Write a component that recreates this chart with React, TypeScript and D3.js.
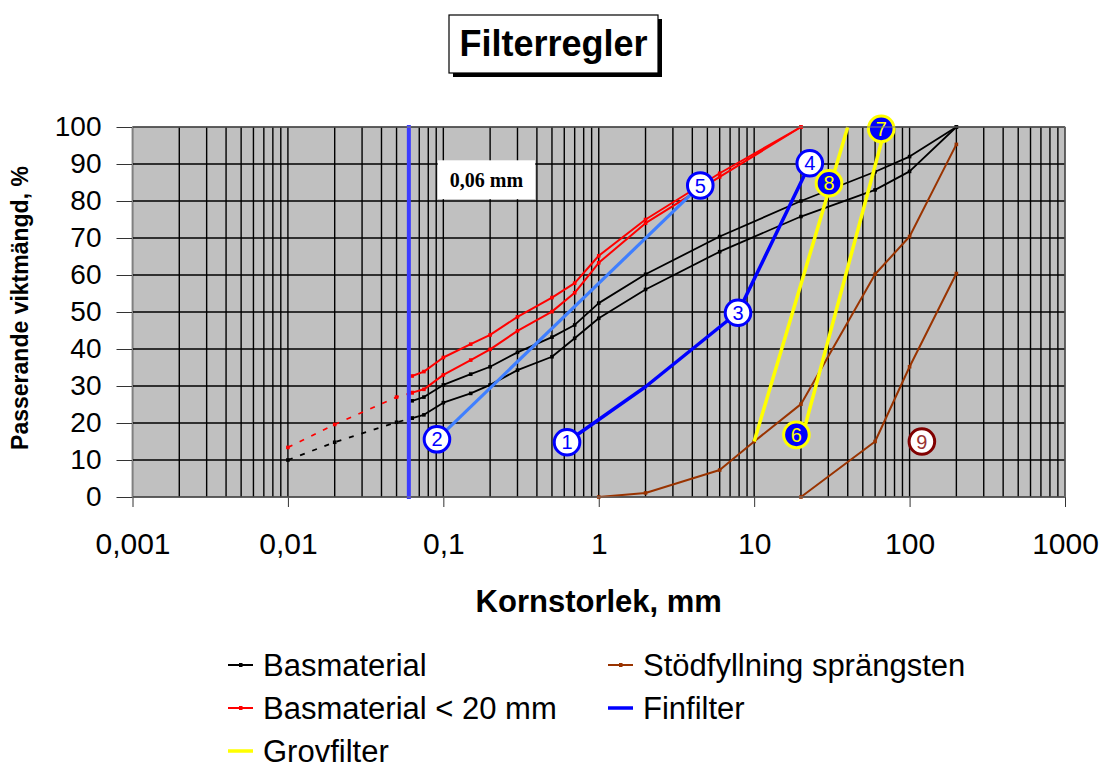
import * as d3 from 'd3';
import React, { useEffect, useRef } from 'react';

// axes
const xTicks = [0.001, 0.01, 0.1, 1, 10, 100, 1000];
const xTickLabels = ['0,001', '0,01', '0,1', '1', '10', '100', '1000'];
const yTicks = [0, 10, 20, 30, 40, 50, 60, 70, 80, 90, 100];

// Basmaterial (upper and lower bound)
const basX = [0.063, 0.075, 0.1, 0.15, 0.2, 0.3, 0.5, 0.7, 1, 2, 6, 20, 60, 100, 200];
const basUpperY = [26, 27, 30.3, 33.2, 35.2, 39.1, 43.2, 46.5, 52.4, 60.2, 70.4, 80, 87.9, 92, 100];
const basLowerY = [21.3, 22.2, 25.5, 28, 30.3, 34.3, 37.9, 42.9, 48.3, 56.1, 66.3, 75.8, 83, 88, 100];
const basDashX = [0.01, 0.02, 0.05, 0.063];
const basDashY = [10, 14.8, 20.2, 21.3];

// Basmaterial < 20 mm
const redX = [0.063, 0.075, 0.1, 0.15, 0.2, 0.3, 0.5, 0.7, 1, 2, 6, 20];
const redUpperY = [32.7, 33.9, 37.7, 41.3, 43.8, 48.7, 53.9, 57.8, 65.2, 75, 87.5, 100];
const redLowerY = [28.2, 29.1, 33, 37, 39.9, 44.9, 50.1, 55.2, 63.3, 74, 86.5, 100];
const redDashX = [0.01, 0.02, 0.05, 0.063];
const redDashY = [13.4, 19.6, 27, 28.2];

// Stödfyllning sprängsten
const stodX1 = [1, 2, 6, 10, 20, 60, 100, 200];
const stodY1 = [0, 1.1, 7.3, 15, 25.1, 60.2, 70.4, 95.3];
const stodX2 = [20, 60, 100, 200];
const stodY2 = [0, 15, 35.2, 60.4];

// Grovfilter
const grovX1 = [10, 40];
const grovY1 = [15, 100];
const grovX2 = [20, 70];
const grovY2 = [15, 100];

// Finfilter
const finX = [0.63, 2, 7.9, 22.8];
const finY = [15, 29.8, 50, 90];
const fin2X = [0.091, 4.5];
const fin2Y = [15.6, 84.2];
const limitX = 0.06;

// numbered rules
const ruleLabels = ['1', '2', '3', '4', '5', '6', '7', '8', '9'];
const ruleX = [0.625, 0.091, 7.87, 22.8, 4.5, 18.7, 65.7, 30.3, 120];
const ruleY = [14.8, 15.6, 49.8, 90.2, 84.2, 16.8, 99.5, 84.8, 15];
const ruleKind = ['fin', 'fin', 'fin', 'fin', 'fin', 'grov', 'grov', 'grov', 'stod'];

const legendNames = ['Basmaterial', 'Basmaterial < 20 mm', 'Grovfilter', 'Stödfyllning sprängsten', 'Finfilter'];
const legendColors = ['#000000', '#FF0000', '#FFFF00', '#993300', '#0000FF'];

const FONT = "'Liberation Sans', Arial, sans-serif";

const App: React.FC = () => {
  const svgRef = useRef<SVGSVGElement | null>(null);

  useEffect(() => {
    const width = 1107;
    const height = 771;
    const margin = { top: 127, right: 42, bottom: 274, left: 132.5 };
    const svg = d3.select(svgRef.current);
    svg.selectAll('*').remove();
    svg.attr('width', width).attr('height', height).attr('viewBox', `0 0 ${width} ${height}`);

    const x = d3.scaleLog().domain([0.001, 1000]).range([margin.left, width - margin.right]);
    const y = d3.scaleLinear().domain([0, 100]).range([height - margin.bottom, margin.top]);

    // plot area
    svg
      .append('rect')
      .attr('x', x(0.001))
      .attr('y', y(100))
      .attr('width', x(1000) - x(0.001))
      .attr('height', y(0) - y(100))
      .attr('fill', '#C0C0C0');

    // grid
    const minor: number[] = [];
    for (let e = -3; e <= 2; e++) {
      for (let m = 1; m <= 9; m++) minor.push(m * Math.pow(10, e));
    }
    minor.push(1000);
    svg
      .append('g')
      .selectAll('line')
      .data(minor)
      .join('line')
      .attr('x1', (d) => x(d))
      .attr('x2', (d) => x(d))
      .attr('y1', y(0))
      .attr('y2', y(100))
      .attr('stroke', '#000')
      .attr('stroke-width', 1.4);
    svg
      .append('g')
      .selectAll('line')
      .data(yTicks)
      .join('line')
      .attr('x1', x(0.001))
      .attr('x2', x(1000))
      .attr('y1', (d) => y(d))
      .attr('y2', (d) => y(d))
      .attr('stroke', '#000')
      .attr('stroke-width', 1.4);

    // axes
    const yAxis = svg
      .append('g')
      .attr('transform', `translate(${margin.left},0)`)
      .call(d3.axisLeft(y).tickValues(yTicks).tickSize(16).tickPadding(15));
    yAxis.select('.domain').remove();
    yAxis.selectAll('line').attr('stroke', '#333');
    yAxis
      .selectAll('text')
      .attr('font-family', FONT)
      .attr('font-size', 28)
      .attr('fill', '#000');

    const xAxis = svg
      .append('g')
      .attr('transform', `translate(0,${height - margin.bottom})`)
      .call(
        d3
          .axisBottom(x)
          .tickValues(xTicks)
          .tickSize(10)
          .tickPadding(26)
          .tickFormat((d, i) => xTickLabels[i]),
      );
    xAxis.select('.domain').remove();
    xAxis.selectAll('line').attr('stroke', '#333');
    xAxis
      .selectAll('text')
      .attr('font-family', FONT)
      .attr('font-size', 30)
      .attr('fill', '#000');

    const line = d3
      .line<[number, number]>()
      .x((d) => x(d[0]))
      .y((d) => y(d[1]));

    const zip = (xs: number[], ys: number[]) => xs.map((v, i) => [v, ys[i]] as [number, number]);

    const drawSeries = (
      xs: number[],
      ys: number[],
      color: string,
      w: number,
      dash: string | null,
      markers: boolean,
    ) => {
      const pts = zip(xs, ys);
      const p = svg
        .append('path')
        .datum(pts)
        .attr('fill', 'none')
        .attr('stroke', color)
        .attr('stroke-width', w)
        .attr('stroke-linejoin', 'round')
        .attr('d', line);
      if (dash) p.attr('stroke-dasharray', dash);
      if (markers) {
        svg
          .append('g')
          .selectAll('rect')
          .data(pts)
          .join('rect')
          .attr('x', (d) => x(d[0]) - 1.8)
          .attr('y', (d) => y(d[1]) - 1.8)
          .attr('width', 3.6)
          .attr('height', 3.6)
          .attr('fill', color);
      }
    };

    drawSeries(stodX1, stodY1, '#993300', 2, null, true);
    drawSeries(stodX2, stodY2, '#993300', 2, null, true);
    drawSeries(basDashX, basDashY, '#000', 1.8, '5,8', true);
    drawSeries(redDashX, redDashY, '#FF0000', 1.8, '5,8', true);
    drawSeries(basX, basUpperY, '#000', 1.8, null, true);
    drawSeries(basX, basLowerY, '#000', 1.8, null, true);
    drawSeries(redX, redUpperY, '#FF0000', 2, null, true);
    drawSeries(redX, redLowerY, '#FF0000', 2, null, true);
    drawSeries(grovX1, grovY1, '#FFFF00', 3.5, null, false);
    drawSeries(grovX2, grovY2, '#FFFF00', 3.5, null, false);
    drawSeries(fin2X, fin2Y, '#3F7FFF', 3.2, null, false);
    drawSeries(finX, finY, '#0000FF', 3.5, null, false);

    // 0,06 mm limit
    svg
      .append('line')
      .attr('x1', x(limitX))
      .attr('x2', x(limitX))
      .attr('y1', y(0))
      .attr('y2', y(100))
      .attr('stroke', '#3B3BFF')
      .attr('stroke-width', 4)
      .attr('stroke-linecap', 'square');

    const lb = svg.append('g');
    lb.append('rect')
      .attr('x', x(0.092))
      .attr('y', y(91))
      .attr('width', x(0.39) - x(0.092))
      .attr('height', y(80.5) - y(91))
      .attr('fill', '#fff');
    lb.append('text')
      .attr('x', (x(0.092) + x(0.39)) / 2)
      .attr('y', (y(91) + y(80.5)) / 2 + 7)
      .attr('text-anchor', 'middle')
      .attr('font-family', "'Liberation Serif', 'Times New Roman', serif")
      .attr('font-weight', 'bold')
      .attr('font-size', 20)
      .text('0,06 mm');

    // numbered circles
    const styles: Record<string, { fill: string; stroke: string; text: string }> = {
      fin: { fill: '#fff', stroke: '#0000FF', text: '#0000FF' },
      grov: { fill: '#0000FF', stroke: '#FFFF00', text: '#FFFF00' },
      stod: { fill: '#fff', stroke: '#800000', text: '#993333' },
    };
    const rules = svg
      .append('g')
      .selectAll('g')
      .data(ruleLabels)
      .join('g')
      .attr('transform', (d, i) => `translate(${x(ruleX[i])},${y(ruleY[i])})`);
    rules
      .append('circle')
      .attr('r', 12.8)
      .attr('fill', (d, i) => styles[ruleKind[i]].fill)
      .attr('stroke', (d, i) => styles[ruleKind[i]].stroke)
      .attr('stroke-width', 3);
    rules
      .append('text')
      .attr('text-anchor', 'middle')
      .attr('dy', '0.36em')
      .attr('font-family', FONT)
      .attr('font-size', 20)
      .attr('fill', (d, i) => styles[ruleKind[i]].text)
      .text((d) => d);

    // plot border
    svg
      .append('rect')
      .attr('x', x(0.001))
      .attr('y', y(100))
      .attr('width', x(1000) - x(0.001))
      .attr('height', y(0) - y(100))
      .attr('fill', 'none')
      .attr('stroke', '#808080')
      .attr('stroke-width', 1);

    // title
    svg.append('rect').attr('x', 453).attr('y', 19).attr('width', 209).attr('height', 58).attr('fill', '#000');
    svg
      .append('rect')
      .attr('x', 449)
      .attr('y', 15)
      .attr('width', 209)
      .attr('height', 58)
      .attr('fill', '#fff')
      .attr('stroke', '#000')
      .attr('stroke-width', 1.2);
    svg
      .append('text')
      .attr('x', 553.5)
      .attr('y', 56)
      .attr('text-anchor', 'middle')
      .attr('font-family', FONT)
      .attr('font-weight', 'bold')
      .attr('font-size', 36)
      .text('Filterregler');

    // axis titles
    svg
      .append('text')
      .attr('x', (x(0.001) + x(1000)) / 2)
      .attr('y', 612)
      .attr('text-anchor', 'middle')
      .attr('font-family', FONT)
      .attr('font-weight', 'bold')
      .attr('font-size', 31)
      .text('Kornstorlek, mm');
    svg
      .append('text')
      .attr('transform', `translate(28,${(y(0) + y(100)) / 2 - 4}) rotate(-90)`)
      .attr('text-anchor', 'middle')
      .attr('font-family', FONT)
      .attr('font-weight', 'bold')
      .attr('font-size', 23)
      .text('Passerande viktmängd, %');

    // legend
    const lg = svg
      .append('g')
      .selectAll('g')
      .data(legendNames)
      .join('g')
      .attr('transform', (d, i) => `translate(${i < 3 ? 228 : 608},${676 + (i % 3) * 43})`);
    lg.append('line')
      .attr('x1', 0)
      .attr('x2', 25)
      .attr('y1', -11)
      .attr('y2', -11)
      .attr('stroke', (d, i) => legendColors[i])
      .attr('stroke-width', (d, i) => (i === 2 || i === 4 ? 3.5 : 2));
    lg.filter((d, i) => i !== 2 && i !== 4)
      .append('rect')
      .attr('x', 11)
      .attr('y', -13)
      .attr('width', 3.5)
      .attr('height', 4)
      .attr('fill', (d) => legendColors[legendNames.indexOf(d)]);
    lg.append('text')
      .attr('x', 35)
      .attr('font-family', FONT)
      .attr('font-size', 31)
      .text((d) => d);
  }, []);

  return (
    <div style={{ position: 'absolute', left: 0, top: 0 }}>
      <svg ref={svgRef} style={{ display: 'block', background: '#fff' }}></svg>
    </div>
  );
};

export default App;
